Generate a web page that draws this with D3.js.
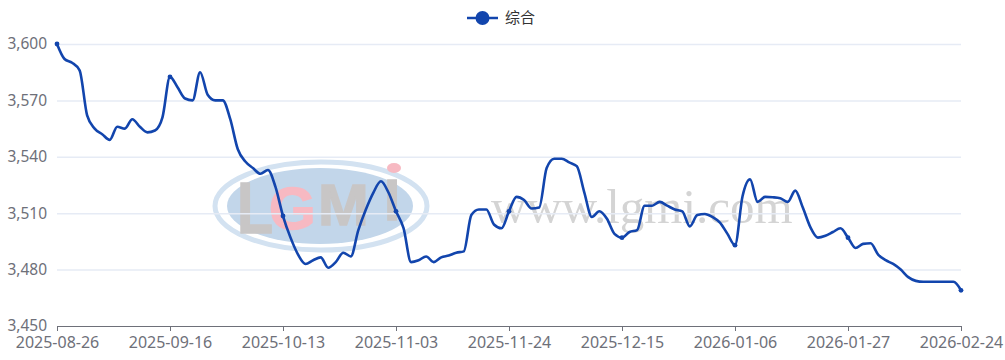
<!DOCTYPE html>
<html>
<head>
<meta charset="utf-8">
<style>
  html, body { margin: 0; padding: 0; background: #fff; overflow: hidden; }
  text { font-family: "Noto Sans", "Noto Sans CJK SC", sans-serif; }
</style>
<script src="https://cdn.jsdelivr.net/npm/d3@7"></script>
</head>
<body>
<div class="canvas"></div>
<script>
const dates = [
  "2025-08-26","2025-08-27","2025-08-28","2025-08-29",
  "2025-09-01","2025-09-02","2025-09-03","2025-09-04","2025-09-05",
  "2025-09-08","2025-09-09","2025-09-10","2025-09-11","2025-09-12",
  "2025-09-15","2025-09-16","2025-09-17","2025-09-18","2025-09-19",
  "2025-09-22","2025-09-23","2025-09-24","2025-09-25","2025-09-26",
  "2025-09-28","2025-09-29","2025-09-30",
  "2025-10-09","2025-10-10","2025-10-11","2025-10-13","2025-10-14","2025-10-15","2025-10-16","2025-10-17",
  "2025-10-20","2025-10-21","2025-10-22","2025-10-23","2025-10-24",
  "2025-10-27","2025-10-28","2025-10-29","2025-10-30","2025-10-31",
  "2025-11-03","2025-11-04","2025-11-05","2025-11-06","2025-11-07",
  "2025-11-10","2025-11-11","2025-11-12","2025-11-13","2025-11-14",
  "2025-11-17","2025-11-18","2025-11-19","2025-11-20","2025-11-21",
  "2025-11-24","2025-11-25","2025-11-26","2025-11-27","2025-11-28",
  "2025-12-01","2025-12-02","2025-12-03","2025-12-04","2025-12-05",
  "2025-12-08","2025-12-09","2025-12-10","2025-12-11","2025-12-12",
  "2025-12-15","2025-12-16","2025-12-17","2025-12-18","2025-12-19",
  "2025-12-22","2025-12-23","2025-12-24","2025-12-25","2025-12-26",
  "2025-12-29","2025-12-30","2025-12-31",
  "2026-01-04","2026-01-05","2026-01-06","2026-01-07","2026-01-08","2026-01-09",
  "2026-01-12","2026-01-13","2026-01-14","2026-01-15","2026-01-16",
  "2026-01-19","2026-01-20","2026-01-21","2026-01-22","2026-01-23",
  "2026-01-26","2026-01-27","2026-01-28","2026-01-29","2026-01-30",
  "2026-02-02","2026-02-03","2026-02-04","2026-02-05","2026-02-06",
  "2026-02-09","2026-02-10","2026-02-11","2026-02-12","2026-02-13",
  "2026-02-14","2026-02-24"
];

const values = [
  3600, 3592, 3590, 3586, 3562, 3555, 3552, 3549, 3556, 3555,
  3560, 3556, 3553, 3554, 3561, 3582.5, 3577, 3571, 3570, 3585,
  3573, 3570, 3570, 3560, 3544, 3537.5, 3534, 3531, 3533, 3524,
  3508.5, 3497, 3488, 3483, 3485, 3486.5, 3481, 3484, 3489, 3487,
  3501, 3512, 3521, 3527, 3521, 3511, 3502, 3484, 3485, 3487,
  3484, 3486.5, 3487.5, 3489, 3489.7, 3509, 3512, 3512, 3504, 3502,
  3511, 3518.7, 3517, 3512.5, 3513, 3534, 3539, 3539, 3537, 3535,
  3521, 3508, 3511, 3507, 3499, 3497, 3500, 3501, 3514, 3514,
  3516, 3514, 3512, 3511, 3503, 3509, 3509.6, 3508, 3505, 3499,
  3493, 3519, 3528, 3516, 3518.7, 3518.5, 3518, 3516, 3522, 3513,
  3502.6, 3497, 3498, 3500, 3502, 3497, 3491.5, 3493.7, 3494, 3488,
  3485, 3483, 3480, 3476, 3474, 3473.5, 3473.5, 3473.5, 3473.5, 3473.5,
  3469
];

const yTicks = [3450, 3480, 3510, 3540, 3570, 3600];
const seriesName = "综合";
const labelStep = 15;

const dims = { width: 1005, height: 360, left: 57, right: 961, top: 44, bottom: 326 };
const lineColour = "#1245ad";
const axisColour = "#6e7079";

const svg = d3
  .select(".canvas")
  .append("svg")
  .attr("width", dims.width)
  .attr("height", dims.height)
  .style("display", "block");

const x = d3.scalePoint().domain(dates).range([dims.left, dims.right]);
const y = d3.scaleLinear().domain([3450, 3600]).range([dims.bottom, dims.top]);

// watermark sits under everything
const mark = svg.append("g");

mark.append("ellipse")
  .attr("cx", 321).attr("cy", 206).attr("rx", 106).attr("ry", 44)
  .attr("fill", "none").attr("stroke", "#d3e2f1").attr("stroke-width", 5);
mark.append("ellipse")
  .attr("cx", 320).attr("cy", 206).attr("rx", 93).attr("ry", 38)
  .attr("fill", "#c2d6ea");

const logoLetters = [
  { t: "L", x: 237, y: 233, sx: 0.82, size: 72, fill: "#c8c6c6" },
  { t: "G", x: 269, y: 229, sx: 1.0, size: 60, fill: "#f7b9c2" },
  { t: "M", x: 318, y: 225, sx: 1.05, size: 58, fill: "#c8c6c6" },
  { t: "I", x: 384, y: 220, sx: 1.0, size: 58, fill: "#c8c6c6" }
];
mark.selectAll("text.logo")
  .data(logoLetters)
  .enter()
  .append("text")
  .attr("class", "logo")
  .attr("transform", d => `translate(${d.x},${d.y}) scale(${d.sx},1)`)
  .attr("fill", d => d.fill)
  .attr("stroke", d => d.fill)
  .attr("stroke-width", 1.5)
  .style("font-family", '"Liberation Sans"')
  .style("font-weight", "bold")
  .style("font-size", d => d.size + "px")
  .text(d => d.t);
mark.append("ellipse")
  .attr("cx", 394).attr("cy", 168).attr("rx", 7).attr("ry", 5)
  .attr("fill", "#f7b9c2");

mark.append("text")
  .attr("x", 491)
  .attr("y", 223)
  .attr("fill", "#d4d4d4")
  .style("font-family", '"Liberation Serif"')
  .style("font-size", "49px")
  .text("www.lgmi.com");

// y axis, only labels and grid lines
const yAxis = d3.axisLeft(y)
  .tickValues(yTicks)
  .tickFormat(d3.format(","))
  .tickSize(-(dims.right - dims.left))
  .tickPadding(10);

const yGroup = svg.append("g")
  .attr("transform", `translate(${dims.left},0)`)
  .call(yAxis);
yGroup.select(".domain").remove();
yGroup.selectAll("line")
  .attr("stroke", "#e6ebf5")
  .attr("stroke-width", 1.5)
  .attr("stroke-opacity", d => (d === 3450 ? 0 : 1));
yGroup.selectAll("text")
  .attr("fill", axisColour)
  .style("font-size", "15.5px");

// x axis
const xAxis = d3.axisBottom(x)
  .tickValues(dates.filter((d, i) => i % labelStep === 0))
  .tickSize(5)
  .tickSizeOuter(0)
  .tickPadding(6);

const xGroup = svg.append("g")
  .attr("transform", `translate(0,${dims.bottom})`)
  .call(xAxis);
xGroup.select(".domain").attr("stroke", axisColour).attr("stroke-width", 1);
xGroup.selectAll("line").attr("stroke", axisColour);
xGroup.selectAll("text")
  .attr("fill", axisColour)
  .style("font-size", "16px");

// line
const linePath = d3.line()
  .x((d, i) => x(dates[i]))
  .y(d => y(d))
  .curve(d3.curveMonotoneX);

svg.append("path")
  .datum(values)
  .attr("fill", "none")
  .attr("stroke", lineColour)
  .attr("stroke-width", 2.6)
  .attr("d", linePath);

// dots only where a label is shown
svg.selectAll("circle.dot")
  .data(dates.filter((d, i) => i % labelStep === 0))
  .enter()
  .append("circle")
  .attr("class", "dot")
  .attr("cx", d => x(d))
  .attr("cy", d => y(values[dates.indexOf(d)]))
  .attr("r", 2.4)
  .attr("fill", lineColour);

// legend
const legend = svg.append("g").attr("transform", "translate(467,18)");
legend.append("line")
  .attr("x1", 0).attr("x2", 31)
  .attr("stroke", lineColour)
  .attr("stroke-width", 2.5);
legend.append("circle")
  .attr("cx", 15.5)
  .attr("r", 7)
  .attr("fill", lineColour);
legend.append("text")
  .attr("x", 38)
  .attr("dy", "0.35em")
  .attr("fill", "#333")
  .style("font-family", '"Noto Sans CJK SC"')
  .style("font-size", "15px")
  .text(seriesName);
</script>
</body>
</html>
